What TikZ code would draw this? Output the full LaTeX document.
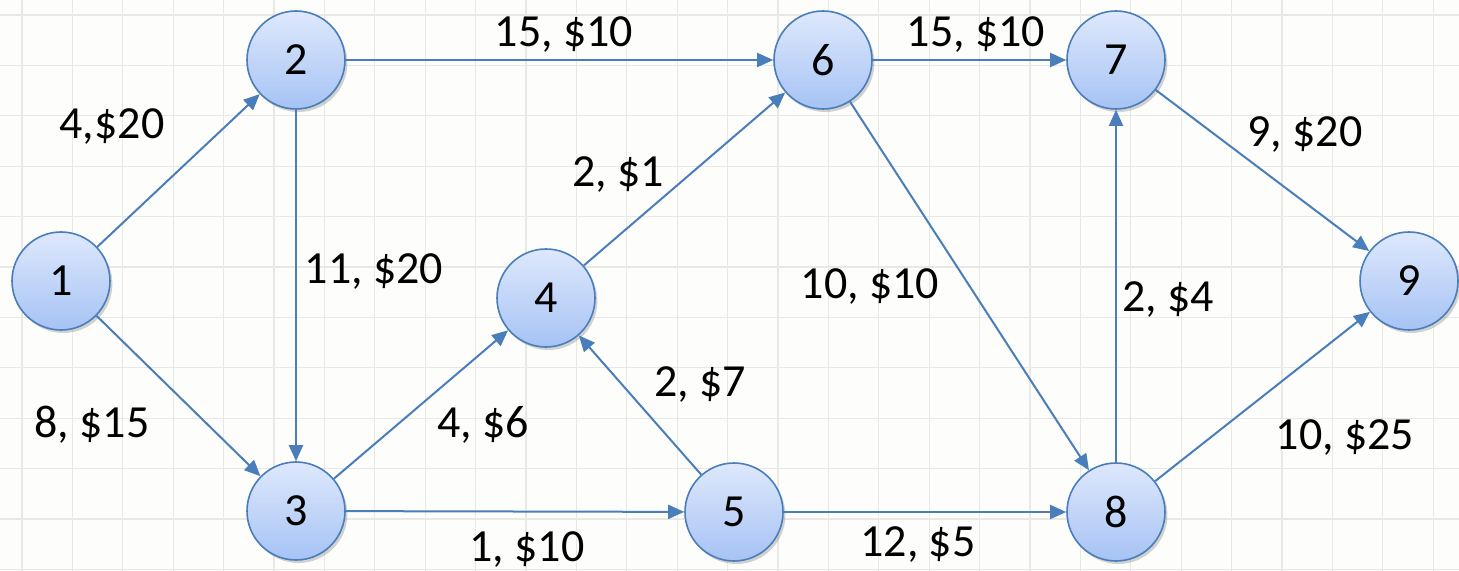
\documentclass[tikz,border=0pt]{standalone}
\usepackage{fontspec}
\setmainfont{Carlito}
\usetikzlibrary{arrows.meta,shadows}
\definecolor{edgeblue}{HTML}{4A7EBB}
\definecolor{ntop}{HTML}{DEE8FC}
\definecolor{nbot}{HTML}{A6C3F4}
\definecolor{gridc}{HTML}{E8E8E4}
\definecolor{bgc}{HTML}{FDFDFB}
\tikzset{
  vert/.style={circle, draw=edgeblue, line width=0.8pt, minimum size=49pt, inner sep=0pt,
    top color=ntop, bottom color=nbot, drop shadow={shadow xshift=1.2pt, shadow yshift=-1.5pt, opacity=0.35},
    font=\fontsize{23}{27}\selectfont},
  arc/.style={draw=edgeblue, line width=1pt, -{Triangle[length=8pt,width=7pt]}},
  lbl/.style={font=\fontsize{23}{27}\selectfont, inner sep=0pt}
}
\begin{document}
\begin{tikzpicture}[x=0.5pt, y=-0.5pt]
\useasboundingbox (0,0) rectangle (1459,571);
\fill[bgc] (0,0) rectangle (1459,571);
\foreach \i in {0,...,28} {\draw[gridc, line width=0.6pt] ({22+50.4*\i},0) -- ({22+50.4*\i},571);}
\foreach \j in {0,...,11} {\draw[gridc, line width=0.6pt] (0,{15+50.4*\j}) -- (1459,{15+50.4*\j});}
\node[vert] (n1) at (61,281) {1};
\node[vert] (n2) at (296,60) {2};
\node[vert] (n3) at (296,511) {3};
\node[vert] (n4) at (546,298) {4};
\node[vert] (n5) at (734,512) {5};
\node[vert] (n6) at (823,60) {6};
\node[vert] (n7) at (1116,60) {7};
\node[vert] (n8) at (1116,512) {8};
\node[vert] (n9) at (1409,281) {9};
\draw[arc] (n1) -- (n2);
\draw[arc] (n1) -- (n3);
\draw[arc] (n2) -- (n6);
\draw[arc] (n2) -- (n3);
\draw[arc] (n3) -- (n4);
\draw[arc] (n3) -- (n5);
\draw[arc] (n5) -- (n4);
\draw[arc] (n4) -- (n6);
\draw[arc] (n5) -- (n8);
\draw[arc] (n6) -- (n7);
\draw[arc] (n6) -- (n8);
\draw[arc] (n8) -- (n7);
\draw[arc] (n7) -- (n9);
\draw[arc] (n8) -- (n9);
\node[lbl] (l12) at (112,127) {4,\$20};
\node[lbl] (l13) at (92,425) {8, \$15};
\node[lbl] (l26) at (564,35) {15, \$10};
\node[lbl] (l67) at (976,35) {15, \$10};
\node[lbl] (l23) at (374,272) {11, \$20};
\node[lbl] (l46) at (618,175) {2, \$1};
\node[lbl] (l34) at (483,425) {4, \$6};
\node[lbl] (l54) at (700,385) {2, \$7};
\node[lbl] (l35) at (527,550) {1, \$10};
\node[lbl] (l58) at (918,545) {12, \$5};
\node[lbl] (l68) at (870,287) {10, \$10};
\node[lbl] (l79) at (1305,135) {9, \$20};
\node[lbl] (l87) at (1168,300) {2, \$4};
\node[lbl] (l89) at (1345,438) {10, \$25};
\end{tikzpicture}
\end{document}
